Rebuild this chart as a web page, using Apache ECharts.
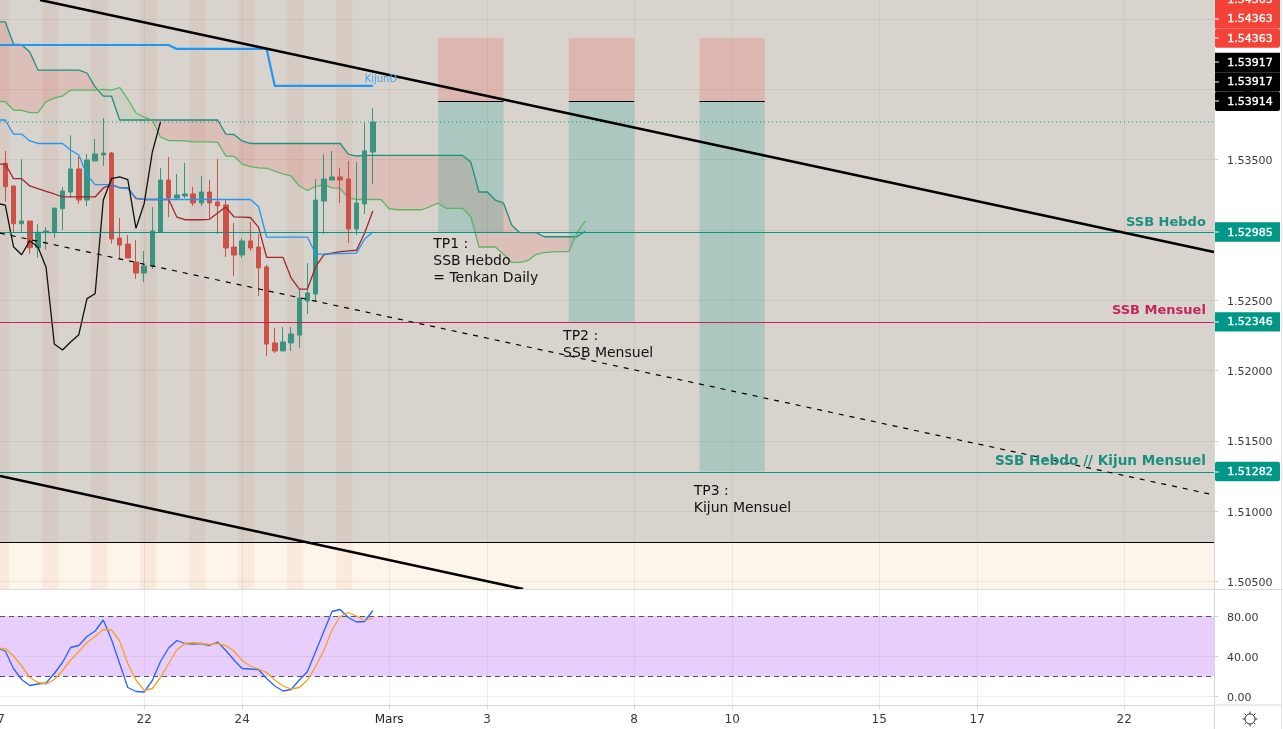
<!DOCTYPE html>
<html><head><meta charset="utf-8">
<style>html,body{margin:0;padding:0;background:#fff}#c{width:1283px;height:729px}</style>
<script src="https://cdn.jsdelivr.net/npm/echarts@6/dist/echarts.min.js"></script>
</head><body><div id="c"></div>
<script>
// ---- candles (bar index 0..45)
const opens=[1.53473,1.53312,1.53044,1.53063,1.52873,1.52983,1.52983,1.53150,1.53269,1.53433,1.53212,1.53490,1.53532,1.53546,1.52942,1.52899,1.52771,1.52693,1.52743,1.52985,1.53354,1.53226,1.53241,1.53255,1.53191,1.53269,1.53198,1.53177,1.52878,1.52821,1.52921,1.52878,1.52736,1.52196,1.52139,1.52196,1.52252,1.52494,1.52544,1.53205,1.53354,1.53376,1.53361,1.53006,1.53184,1.53553];
const closes=[1.53307,1.53044,1.53063,1.52873,1.52983,1.52992,1.53155,1.53276,1.53433,1.53212,1.53497,1.53539,1.53546,1.52935,1.52892,1.52800,1.52693,1.52743,1.52992,1.53354,1.53226,1.53248,1.53255,1.53191,1.53269,1.53191,1.53170,1.52871,1.52821,1.52921,1.52871,1.52729,1.52188,1.52139,1.52203,1.52260,1.52515,1.52551,1.53212,1.53361,1.53376,1.53354,1.53006,1.53191,1.53561,1.53767];
const lows=[1.53200,1.52978,1.52978,1.52830,1.52802,1.52859,1.52944,1.52999,1.53229,1.53186,1.53170,1.53490,1.53454,1.52902,1.52798,1.52800,1.52651,1.52629,1.52722,1.52985,1.53091,1.53219,1.53226,1.53170,1.53170,1.53084,1.52970,1.52807,1.52672,1.52800,1.52850,1.52530,1.52103,1.52125,1.52139,1.52139,1.52160,1.52402,1.52487,1.52970,1.53354,1.53191,1.52907,1.52963,1.53113,1.53326];
const highs=[1.53561,1.53312,1.53502,1.53063,1.53039,1.53020,1.53155,1.53303,1.53672,1.53518,1.53539,1.53646,1.53795,1.53553,1.53084,1.52963,1.52928,1.52850,1.53162,1.53440,1.53518,1.53397,1.53475,1.53305,1.53383,1.53354,1.53504,1.53212,1.53049,1.52942,1.53056,1.52970,1.52750,1.52302,1.52309,1.52309,1.52579,1.52764,1.53361,1.53539,1.53561,1.53440,1.53490,1.53482,1.53760,1.53866];
// ---- ichimoku lines (values start at bar index -1)
const senkouB=[1.54478,1.54478,1.54321,1.54316,1.54264,1.54136,1.54136,1.54136,1.54136,1.54136,1.54136,1.54115,1.54016,1.53951,1.53951,1.53781,1.53781,1.53781,1.53781,1.53781,1.53781,1.53781,1.53781,1.53781,1.53781,1.53781,1.53781,1.53781,1.53681,1.53678,1.53632,1.53614,1.53614,1.53614,1.53614,1.53614,1.53614,1.53614,1.53614,1.53614,1.53614,1.53614,1.53614,1.53539,1.53525,1.53529,1.53529,1.53529,1.53529,1.53529,1.53529,1.53529,1.53529,1.53529,1.53529,1.53529,1.53529,1.53529,1.53482,1.53269,1.53269,1.53212,1.53191,1.53034,1.52980,1.52980,1.52980,1.52951,1.52951,1.52951,1.52951,1.52951,1.52990];
const senkouA=[1.53914,1.53911,1.53852,1.53850,1.53833,1.53833,1.53912,1.53937,1.53951,1.53994,1.53994,1.53994,1.53994,1.53998,1.53994,1.54012,1.53930,1.53831,1.53802,1.53781,1.53660,1.53635,1.53635,1.53632,1.53625,1.53625,1.53625,1.53622,1.53525,1.53523,1.53468,1.53449,1.53440,1.53438,1.53418,1.53397,1.53383,1.53312,1.53280,1.53308,1.53322,1.53298,1.53295,1.53226,1.53216,1.53216,1.53216,1.53216,1.53150,1.53143,1.53143,1.53143,1.53143,1.53165,1.53189,1.53153,1.53153,1.53153,1.53093,1.52878,1.52878,1.52878,1.52826,1.52769,1.52769,1.52781,1.52826,1.52838,1.52843,1.52845,1.52845,1.52978,1.53063];
const kijun=[1.53781,1.53781,1.53681,1.53681,1.53632,1.53614,1.53614,1.53614,1.53614,1.53568,1.53532,1.53390,1.53322,1.53322,1.53322,1.53298,1.53294,1.53226,1.53216,1.53216,1.53216,1.53216,1.53216,1.53216,1.53216,1.53216,1.53216,1.53216,1.53216,1.53216,1.53216,1.53216,1.53166,1.52949,1.52949,1.52949,1.52949,1.52949,1.52949,1.52828,1.52828,1.52830,1.52832,1.52833,1.52835,1.52935,1.52985];
const tenkan=[1.53468,1.53468,1.53364,1.53364,1.53312,1.53293,1.53273,1.53255,1.53234,1.53234,1.53234,1.53234,1.53234,1.53298,1.53322,1.53300,1.53298,1.53223,1.53216,1.53216,1.53216,1.53216,1.53091,1.53072,1.53072,1.53072,1.53075,1.53120,1.53162,1.53093,1.53091,1.53088,1.53020,1.52805,1.52805,1.52805,1.52658,1.52579,1.52579,1.52738,1.52823,1.52835,1.52845,1.52850,1.52855,1.52978,1.53134];
const chikou=[1.53189,1.53175,1.52880,1.52823,1.52923,1.52878,1.52732,1.52188,1.52146,1.52203,1.52255,1.52511,1.52546,1.53212,1.53364,1.53376,1.53357,1.53011,1.53186,1.53553,1.53767];
// ---- daily kijun steps: [bar, price]
const kijunDaily=[[-1,1.54314],[20,1.54314],[21,1.54286],[32,1.54286],[33,1.54023],[45,1.54023]];
// ---- stochastic (values start at bar index -1)
const stochK=[48,45.5,28,17,11,12.5,13.5,23,34,49,51,60,65.5,76.5,57,33,9,5,4.5,16,35,48.5,56,53,52.5,53,51,54.5,46,36.5,28,27.5,27,18,10.5,5.5,7,16.5,25,45,65,85,87,79,74.5,75,86];
const stochD=[48,48,40.5,30.5,19,14,12.5,17,26,36.5,45,54,60,67,66.5,55.5,33,16.5,6,8,19,33,46.5,53,54,53,52,53,51,45.5,36,30.5,27.5,24,16.5,10.5,7.5,9,16.5,30,46,66.5,80,84,80.5,76,78.5];
// ---- horizontal levels
const levelSSBHebdo=1.52985, levelSSBMensuel=1.52346, levelKijunMensuel=1.51282, levelLast=1.53767, levelFloor=1.50781;
// ---- trend lines: [bar, price]
const channelTop=[[4.25,1.54634],[148,1.52843]];
const channelBottom=[[-0.65,1.51250],[63.4,1.50447]];
const channelMid=[[-0.65,1.52977],[147.5,1.51122]];
// ---- position boxes
const boxStart=[53,69,85], boxEnd=[61,77,93];
const boxStop=[1.54363,1.54363,1.54363], boxEntry=[1.53914,1.53917,1.53917], boxTarget=[1.52985,1.52346,1.51282];
// ---- session shading start bars
const sessionStart=[-1.5,4.5,10.5,16.5,22.5,28.5,34.5,40.5];
const sessionLength=2;
// ---- axis
const timeTicks=[17,29,47,59,77,89,107,119,137];
const timeLabels=['22','24','Mars','3','8','10','15','17','22'];
const firstTimeTick=-1, firstTimeLabel='17';
const priceTicks=[1.505,1.51,1.515,1.52,1.525,1.53,1.535,1.54,1.545];
const stochTicks=[0,40,80];
const stochBandLow=20, stochBandHigh=80;
// ---- price tags
const tagPrices=[1.51282,1.52346,1.52985,1.53914,1.53917,1.53917,1.54363,1.54363,1.54363];
const tagKinds=['teal','teal','teal','black','black','black','red','red','red'];
// ---- texts
const noteText=['TP1 :\nSSB Hebdo\n= Tenkan Daily','TP2 :\nSSB Mensuel','TP3 :\nKijun Mensuel'];
const noteBar=[52.4,68.3,84.3], notePrice=[1.52956,1.52302,1.51200];
const levelText=['SSB Hebdo','SSB Mensuel','SSB Hebdo // Kijun Mensuel'];
const levelTextPrice=[levelSSBHebdo,levelSSBMensuel,levelKijunMensuel];
const levelTextBar=147;
const kijunLabel='KijunD', kijunLabelBar=44, kijunLabelPrice=1.54072;

const FONT='"DejaVu Sans",sans-serif';
const XMIN=-0.65,XMAX=148,PMIN=1.50447,PMAX=1.54634,SMIN=-8.5,SMAX=106.5;
const C={teal:'#009688',ssb:'#1f8f7f',ssa:'#5cb562',up:'#3b9480',down:'#cd5146',tenkan:'#a3262a',kijun:'#2196f3',crimson:'#c2255c'};
const idx=(arr,start)=>arr.map((v,i)=>[i+start,v]);
const line=(name,data,color,width,extra)=>Object.assign({name,type:'line',data,symbol:'none',silent:true,animation:false,xAxisIndex:0,yAxisIndex:0,z:5,
  lineStyle:{color,width,type:(extra&&extra.dash)||'solid'}},extra||{});

function cloudPolys(api){
  const runs=[];let cur=null;
  for(let i=0;i<senkouA.length;i++){
    const x=i-1,a=senkouA[i],b=senkouB[i],s=b>=a?1:-1;
    if(cur&&cur.s!==s){
      const pa=senkouA[i-1],pb=senkouB[i-1],t=(pb-pa)/((pb-pa)-(b-a));
      const xc=x-1+t,yc=pa+(a-pa)*t;
      cur.pts.push([xc,yc,yc]);runs.push(cur);cur={s,pts:[[xc,yc,yc]]};
    }
    if(!cur)cur={s,pts:[]};
    cur.pts.push([x,a,b]);
  }
  runs.push(cur);
  return runs.map(r=>{
    const top=r.pts.map(p=>api.coord([p[0],p[1]]));
    const bot=r.pts.slice().reverse().map(p=>api.coord([p[0],p[2]]));
    return {type:'polygon',shape:{points:top.concat(bot)},style:{fill:r.s>0?'rgba(244,67,54,0.14)':'rgba(76,175,80,0.07)'}};
  });
}
const single=[[0,0]];

const tagColor={teal:'#009688',black:'#000000',red:'#f44336'};
const TAGH=19.4;
function tagRender(params,api){
  const g=params.coordSys, right=g.x+g.width, kids=[];let prev=Infinity;
  tagPrices.forEach((p,i)=>{
    let y=api.coord([0,p])[1];
    y=Math.min(y,prev-TAGH);prev=y;
    kids.push({type:'rect',shape:{x:right+1,y:y-9.7,width:65,height:19.4,r:i>0&&tagKinds[i]===tagKinds[i-1]?0:2},style:{fill:tagColor[tagKinds[i]]}});
    kids.push({type:'rect',shape:{x:right+1,y:Math.round(y)-0.5,width:4,height:1},style:{fill:'#fff'}});
    kids.push({type:'text',style:{x:right+36,y:y+0.7,text:p.toFixed(5),fill:'#fff',stroke:'#fff',lineWidth:0.35,font:'11px '+FONT,align:'center',verticalAlign:'middle'}});
  });
  return {type:'group',children:kids};
}
const levelValues=[levelSSBHebdo,levelSSBMensuel,levelKijunMensuel,levelFloor];
const levelColors=[C.teal,C.crimson,C.teal,'#000'];
function levelRender(params,api){
  const g=params.coordSys, kids=levelValues.map((v,i)=>{
    const y=Math.round(api.coord([0,v])[1]);
    return {type:'rect',shape:{x:g.x,y,width:g.width,height:1},style:{fill:levelColors[i]}};
  });
  return {type:'group',children:kids};
}

const series=[
 {type:'custom',name:'background',silent:true,animation:false,z:-2,clip:true,data:single,xAxisIndex:0,yAxisIndex:0,
  renderItem(p,api){
    const a=api.coord([XMIN,PMAX]),b=api.coord([XMAX,levelFloor]),c=api.coord([XMAX,PMIN]);
    return {type:'group',children:[
      {type:'rect',shape:{x:a[0],y:a[1],width:b[0]-a[0],height:b[1]-a[1]},style:{fill:'#d8d4cd'}},
      {type:'rect',shape:{x:a[0],y:b[1],width:b[0]-a[0],height:c[1]-b[1]},style:{fill:'#fef5ea'}}]};
  }},
 {type:'custom',name:'sessions',silent:true,animation:false,z:-1,clip:true,data:sessionStart.map(s=>[s]),encode:{x:0},xAxisIndex:0,yAxisIndex:0,
  renderItem(p,api){
    const s=api.value(0),a=api.coord([s,PMAX]),b=api.coord([s+sessionLength,PMIN]);
    return {type:'rect',shape:{x:a[0],y:a[1],width:b[0]-a[0],height:b[1]-a[1]},style:{fill:'rgba(200,80,60,0.07)'}};
  }},
 {type:'custom',name:'kumo',silent:true,animation:false,z:2,clip:true,data:single,xAxisIndex:0,yAxisIndex:0,
  renderItem(p,api){return {type:'group',children:cloudPolys(api)};}},
 {type:'custom',name:'positions',silent:true,animation:false,z:3,clip:true,data:boxStart.map((s,i)=>[s,boxEnd[i],boxStop[i],boxEntry[i],boxTarget[i]]),encode:{x:[0,1],y:[2,3,4]},xAxisIndex:0,yAxisIndex:0,
  renderItem(p,api){
    const x0=api.value(0),x1=api.value(1);
    const A=api.coord([x0,api.value(2)]),B=api.coord([x1,api.value(3)]),C2=api.coord([x1,api.value(4)]);
    const ym=Math.round(B[1]);
    return {type:'group',children:[
      {type:'rect',shape:{x:A[0],y:A[1],width:B[0]-A[0],height:ym-A[1]},style:{fill:'rgba(244,67,54,0.2)'}},
      {type:'rect',shape:{x:A[0],y:ym,width:B[0]-A[0],height:C2[1]-ym},style:{fill:'rgba(0,150,136,0.2)'}},
      {type:'rect',shape:{x:A[0],y:ym,width:B[0]-A[0],height:1},style:{fill:'#000'}}]};
  }},
 line('ssb',idx(senkouB,-1),C.ssb,1.3),
 line('ssa',idx(senkouA,-1),C.ssa,1.3),
 {type:'candlestick',name:'price',silent:true,animation:false,z:6,xAxisIndex:0,yAxisIndex:0,barWidth:5,
  data:opens.map((o,i)=>[i,o,closes[i],lows[i],highs[i]]),
  itemStyle:{color:C.up,color0:C.down,borderColor:C.up,borderColor0:C.down,borderWidth:1}},
 line('tenkan',idx(tenkan,-1),C.tenkan,1.3,{z:7}),
 line('kijun',idx(kijun,-1),C.kijun,1.3,{z:7}),
 line('chikou',idx(chikou,-1),'#111',1.3,{z:7}),
 line('kijunDaily',kijunDaily,C.kijun,2.2,{z:7}),
 line('last',[[XMIN,levelLast],[XMAX,levelLast]],C.teal,1,{z:4,dash:[1,3]}),
 {type:'custom',name:'levels',silent:true,animation:false,z:8,clip:true,data:single,xAxisIndex:0,yAxisIndex:0,renderItem:levelRender},
 line('channelTop',channelTop,'#000',2.5,{z:9}),
 line('channelBottom',channelBottom,'#000',2.5,{z:9}),
 line('channelMid',channelMid,'#000',1.2,{z:9,dash:[5,6]}),
 {type:'custom',name:'texts',silent:true,animation:false,z:20,clip:false,data:single,xAxisIndex:0,yAxisIndex:0,
  renderItem(p,api){
    const kids=[];
    noteText.forEach((t,i)=>{const c=api.coord([noteBar[i],notePrice[i]]);
      kids.push({type:'text',style:{x:c[0],y:c[1],text:t,fill:'#111',font:'14px '+FONT,lineHeight:17,align:'left',verticalAlign:'top'}});});
    levelText.forEach((t,i)=>{const c=api.coord([levelTextBar,levelTextPrice[i]]);
      kids.push({type:'text',style:{x:c[0],y:c[1]-(i===1?5:3),text:t,fill:i===1?C.crimson:'#1a8f80',font:'bold '+(i===2?13.6:13)+'px '+FONT,align:'right',verticalAlign:'bottom'}});});
    const k=api.coord([kijunLabelBar,kijunLabelPrice]);
    kids.push({type:'text',style:{x:k[0],y:k[1],text:kijunLabel,fill:'#42a5f5',font:'10px '+FONT,align:'left',verticalAlign:'middle'}});
    return {type:'group',children:kids};
  }},
 {type:'custom',name:'tags',silent:true,animation:false,z:30,clip:false,data:single,xAxisIndex:0,yAxisIndex:0,renderItem:tagRender},
 // stochastic
 {type:'custom',name:'stochBand',silent:true,animation:false,z:-1,clip:true,data:single,xAxisIndex:1,yAxisIndex:1,
  renderItem(p,api){
    const a=api.coord([XMIN,stochBandHigh]),b=api.coord([XMAX,stochBandLow]);
    return {type:'rect',shape:{x:a[0],y:a[1],width:b[0]-a[0],height:b[1]-a[1]},style:{fill:'#e8cefd'}};
  }},
 line('hi',[[XMIN,stochBandHigh],[XMAX,stochBandHigh]],'#55505f',1,{xAxisIndex:1,yAxisIndex:1,z:4,dash:[5,4]}),
 line('lo',[[XMIN,stochBandLow],[XMAX,stochBandLow]],'#55505f',1,{xAxisIndex:1,yAxisIndex:1,z:4,dash:[5,4]}),
 line('k',idx(stochK,-1),'#2962ff',1.3,{xAxisIndex:1,yAxisIndex:1,z:5}),
 line('d',idx(stochD,-1),'#f7a11d',1.3,{xAxisIndex:1,yAxisIndex:1,z:6}),
 {type:'custom',name:'firstLabel',silent:true,animation:false,z:20,clip:false,data:single,xAxisIndex:1,yAxisIndex:1,
  renderItem(p,api){
    const c=api.coord([firstTimeTick,SMIN]);
    return {type:'text',style:{x:c[0],y:c[1]+14.5,text:firstTimeLabel,fill:'#3a3a3a',font:'12px '+FONT,align:'center',verticalAlign:'middle'}};
  }}
];

const lbl={color:'#3a3a3a',fontFamily:FONT,fontSize:11};
const richNum={n:{color:'#3a3a3a',fontFamily:FONT,fontSize:11,padding:[3,0,0,0]}};
const option={
 animation:false,backgroundColor:'#fff',
 grid:[{left:0,right:69,top:0,height:589},{left:0,right:69,top:590,height:115}],
 xAxis:[
  {type:'value',gridIndex:0,position:'bottom',min:XMIN,max:XMAX,axisLine:{show:false,onZero:false},axisTick:{show:false,customValues:timeTicks},axisLabel:{show:false,customValues:timeTicks},splitLine:{show:true,lineStyle:{color:'rgba(120,120,90,0.12)'}}},
  {type:'value',gridIndex:1,position:'bottom',min:XMIN,max:XMAX,axisLine:{show:true,onZero:false,lineStyle:{color:'#d6d6d6'}},axisTick:{show:true,length:4,lineStyle:{color:'#cfcfcf'},customValues:timeTicks},
   axisLabel:Object.assign({},lbl,{fontSize:12,margin:9,customValues:timeTicks,
     formatter:v=>{const i=timeTicks.indexOf(Math.round(v));const t=i<0?'':timeLabels[i];return t==='Mars'?'{b|Mars}':t;},
     rich:{b:{color:'#222',fontFamily:FONT,fontSize:12}}}),
   splitLine:{show:true,lineStyle:{color:'rgba(120,120,120,0.13)'}}}
 ],
 yAxis:[
  {type:'value',gridIndex:0,position:'right',min:PMIN,max:PMAX,axisLine:{show:true,onZero:false,lineStyle:{color:'#d6d6d6'}},axisTick:{show:true,length:4,lineStyle:{color:'#cfcfcf'},customValues:priceTicks},
   axisLabel:Object.assign({},lbl,{margin:13,customValues:priceTicks,rich:richNum,formatter:v=>'{n|'+v.toFixed(5)+'}'}),splitLine:{show:true,lineStyle:{color:'rgba(120,120,90,0.12)'}}},
  {type:'value',gridIndex:1,position:'right',min:SMIN,max:SMAX,axisLine:{show:true,onZero:false,lineStyle:{color:'#d6d6d6'}},axisTick:{show:true,length:4,lineStyle:{color:'#cfcfcf'},customValues:stochTicks},
   axisLabel:Object.assign({},lbl,{margin:13,customValues:stochTicks,rich:richNum,formatter:v=>'{n|'+v.toFixed(2)+'}'}),splitLine:{show:true,lineStyle:{color:'rgba(120,120,120,0.13)'}}}
 ],
 series,
 graphic:[
  {type:'line',silent:true,z:50,shape:{x1:0,y1:589.5,x2:1283,y2:589.5},style:{stroke:'#dcdcdc',lineWidth:1}},
  {type:'line',silent:true,z:50,shape:{x1:1214,y1:705,x2:1281,y2:705},style:{stroke:'#d6d6d6',lineWidth:1}},
  {type:'line',silent:true,z:50,shape:{x1:1214.5,y1:705,x2:1214.5,y2:729},style:{stroke:'#d6d6d6',lineWidth:1}},
  {type:'line',silent:true,z:50,shape:{x1:1281.5,y1:0,x2:1281.5,y2:729},style:{stroke:'#e3e8ef',lineWidth:1}},
  {type:'group',x:1250,y:719,silent:true,z:50,children:[
    {type:'circle',shape:{cx:0,cy:0,r:5},style:{fill:'none',stroke:'#333',lineWidth:1}},
    ...[0,45,90,135,180,225,270,315].map(d=>{const r=d*Math.PI/180;return {type:'line',shape:{x1:5*Math.cos(r),y1:5*Math.sin(r),x2:7.5*Math.cos(r),y2:7.5*Math.sin(r)},style:{stroke:'#333',lineWidth:1}};})
  ]}
 ]
};
echarts.init(document.getElementById('c'),null,{renderer:'canvas'}).setOption(option);
</script></body></html>
